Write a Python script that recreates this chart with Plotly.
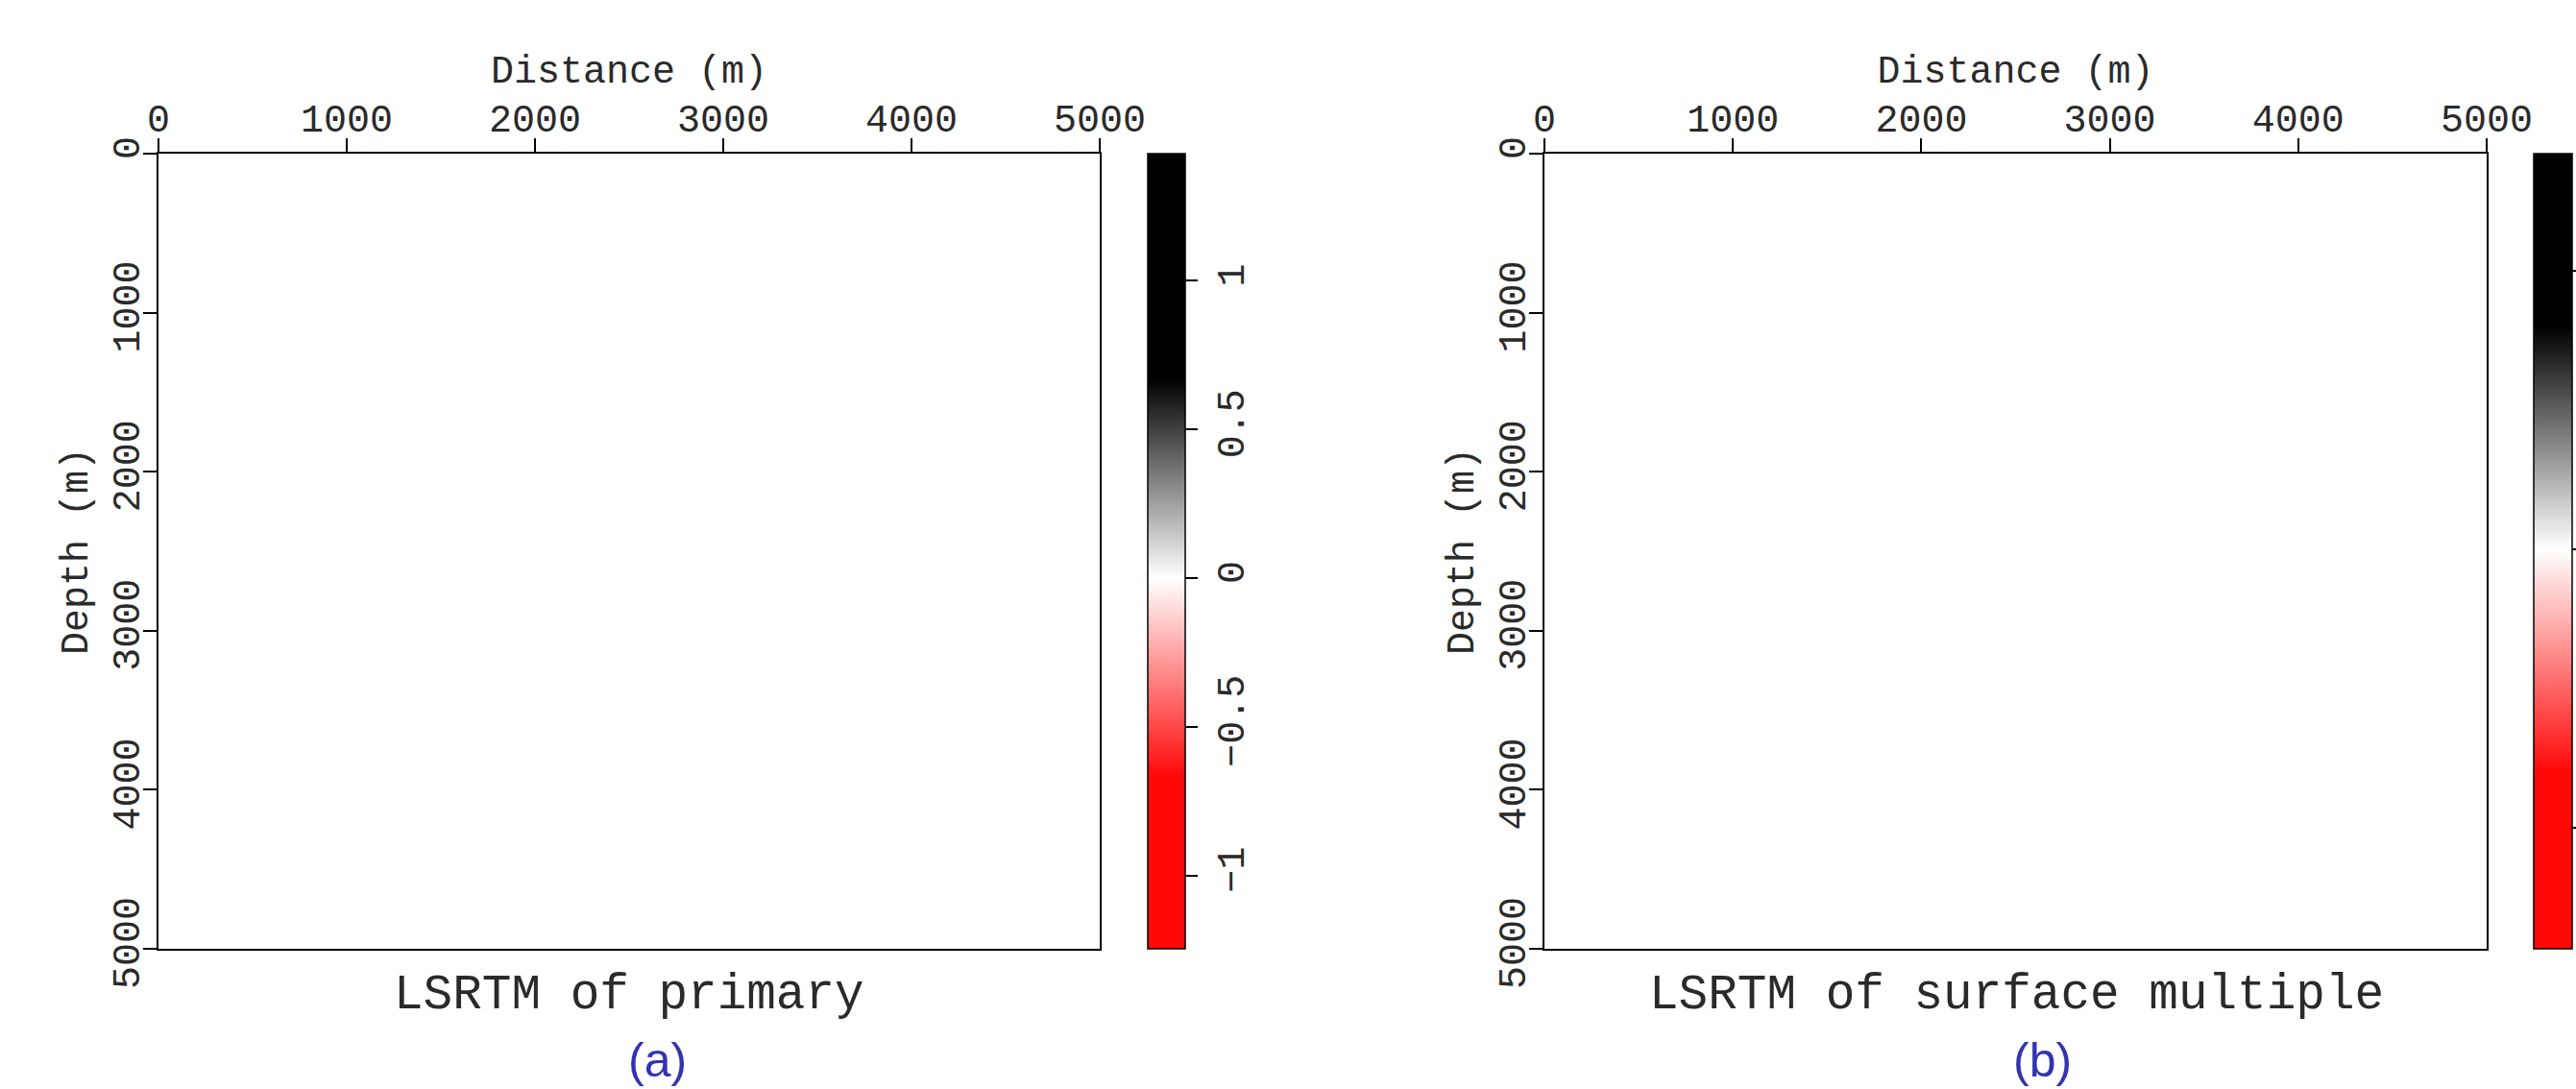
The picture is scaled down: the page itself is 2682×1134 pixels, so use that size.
import numpy as np
import plotly.graph_objects as go

# ---------------- data ----------------
distance_ticks = [0, 1000, 2000, 3000, 4000, 5000]
depth_ticks = [0, 1000, 2000, 3000, 4000, 5000]
grid_x = [0, 5000]
grid_y = [0, 5000]
# both images are blank (zero amplitude everywhere)
image_primary = [[0.0, 0.0], [0.0, 0.0]]
image_multiple = [[0.0, 0.0], [0.0, 0.0]]

cbar_a_ticks = [-1, -0.5, 0, 0.5, 1]
cbar_a_labels = ["\u22121", "\u22120.5", "0", "0.5", "1"]
cbar_a_range = [-1.247, 1.428]
cbar_a_clip = 0.67

cbar_b_ticks = [-1, 0, 1]
cbar_b_range = [-1.436, 1.42]
cbar_b_clip = 0.8

titles = ["LSRTM of primary", "LSRTM of surface multiple"]
panel_tags = ["(a)", "(b)"]

# ---------------- styling ----------------
W, H = 2682, 1134
FONT = "Liberation Mono"
TXT = "#2a2a2a"
RED = "rgb(255,8,8)"


def scale(vmin, vmax, clip):
    span = vmax - vmin
    lo = (-clip - vmin) / span
    mid = (0 - vmin) / span
    hi = (clip - vmin) / span
    return [[0, RED], [lo, RED], [mid, "white"], [hi, "black"], [1, "black"]]


def px_x(p):
    return p / W


def px_y(p):
    return 1 - p / H


top_px, bot_px = 160, 988
ydom = [px_y(bot_px), px_y(top_px)]
xdom_a = [px_x(165), px_x(1145)]
xdom_b = [px_x(1608), px_x(2589)]
cb_len = (bot_px - top_px) / H
cb_y = px_y((top_px + bot_px) / 2)

fig = go.Figure()

common_cb = dict(
    thicknessmode="pixels",
    lenmode="fraction",
    len=cb_len,
    y=cb_y,
    yanchor="middle",
    xanchor="left",
    xpad=0,
    ypad=0,
    outlinewidth=1.5,
    outlinecolor="black",
    ticks="outside",
    ticklen=13,
    tickwidth=1.5,
    tickcolor="black",
    tickangle=-90,
    tickfont=dict(family=FONT, size=40, color=TXT),
)

fig.add_trace(go.Heatmap(
    x=grid_x, y=grid_y, z=image_primary,
    zmin=cbar_a_range[0], zmax=cbar_a_range[1],
    colorscale=scale(cbar_a_range[0], cbar_a_range[1], cbar_a_clip),
    xaxis="x", yaxis="y", hoverinfo="skip",
    colorbar=dict(common_cb, x=px_x(1195), thickness=39,
                  tickvals=cbar_a_ticks, ticktext=cbar_a_labels),
))

fig.add_trace(go.Heatmap(
    x=grid_x, y=grid_y, z=image_multiple,
    zmin=cbar_b_range[0], zmax=cbar_b_range[1],
    colorscale=scale(cbar_b_range[0], cbar_b_range[1], cbar_b_clip),
    xaxis="x2", yaxis="y2", hoverinfo="skip",
    colorbar=dict(common_cb, x=px_x(2638), thickness=40,
                  tickvals=cbar_b_ticks, showticklabels=False),
))

axis_font = dict(family=FONT, size=40, color=TXT)


def xaxis(dom, anchor):
    return dict(
        domain=dom, anchor=anchor, side="top", range=[0, 5000],
        tickvals=distance_ticks, ticktext=[str(v) for v in distance_ticks],
        ticks="outside", ticklen=14, tickwidth=1.5, tickcolor="black",
        ticklabelstandoff=-9,
        showline=True, linewidth=2, linecolor="black", mirror=True,
        showgrid=False, zeroline=False, tickfont=axis_font,
        title=dict(text="Distance (m)", font=axis_font, standoff=5),
    )


def yaxis(anchor):
    return dict(
        domain=ydom, anchor=anchor, range=[5000, 0],
        tickvals=depth_ticks, ticktext=[str(v) for v in depth_ticks],
        ticks="outside", ticklen=14, tickwidth=1.5, tickcolor="black",
        tickangle=-90, ticklabelstandoff=-12,
        showline=True, linewidth=2, linecolor="black", mirror=True,
        showgrid=False, zeroline=False, tickfont=axis_font,
        title=dict(text="Depth (m)", font=axis_font, standoff=8),
    )


fig.update_layout(
    width=W, height=H,
    margin=dict(l=0, r=0, t=0, b=0, autoexpand=False),
    paper_bgcolor="white", plot_bgcolor="white",
    xaxis=xaxis(xdom_a, "y"), yaxis=yaxis("x"),
    xaxis2=xaxis(xdom_b, "y2"), yaxis2=yaxis("x2"),
    showlegend=False,
)

title_x = [px_x(655), px_x(2099)]
tag_x = [px_x(684), px_x(2126)]
for i in range(2):
    fig.add_annotation(
        text=titles[i], xref="paper", yref="paper",
        x=title_x[i], y=px_y(1036), xanchor="center", yanchor="middle",
        showarrow=False, font=dict(family=FONT, size=51, color=TXT),
    )
    fig.add_annotation(
        text=panel_tags[i], xref="paper", yref="paper",
        x=tag_x[i], y=0, xanchor="center", yanchor="bottom",
        showarrow=False, font=dict(family="Liberation Sans", size=50, color="rgb(51,51,178)"),
    )

fig.write_html("out.html")
